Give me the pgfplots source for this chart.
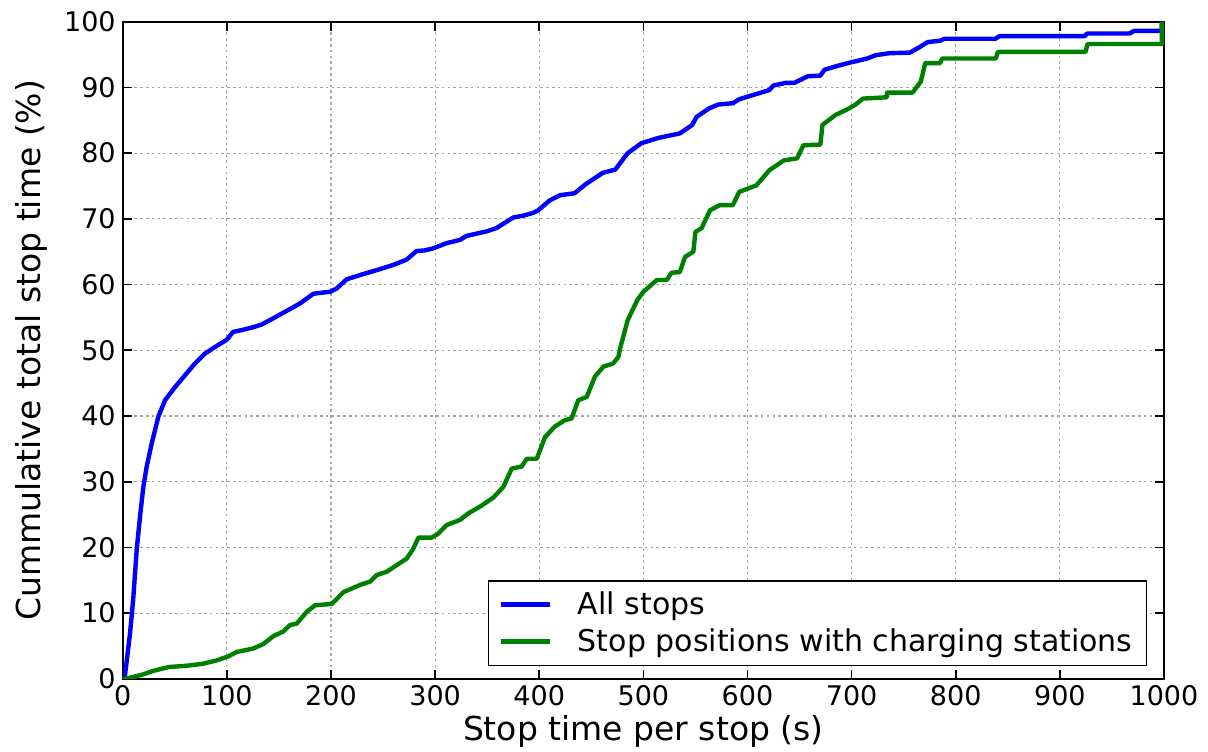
\documentclass[border=0pt]{standalone}
\usepackage{pgfplots}
\pgfplotsset{compat=1.18}
\usepackage{fontspec}
\setmainfont{DejaVu Sans}

\definecolor{mplblue}{RGB}{0,0,255}
\definecolor{mplgreen}{RGB}{0,128,0}

\begin{document}
\begin{tikzpicture}
\begin{axis}[
  width=520.5pt, height=328.5pt, scale only axis,
  xmin=0, xmax=1000, ymin=0, ymax=100,
  xtick={0,100,...,1000}, ytick={0,10,...,100},
  grid=major,
  major grid style={black!35, line width=0.6pt, dash pattern=on 1.3pt off 1.6pt},
  axis line style={line width=1pt},
  tick style={black, line width=0.8pt},
  major tick length=4.5pt,
  tick label style={font=\fontsize{13.5}{16}\selectfont},
  /pgf/number format/assume math mode=true,
  /pgf/number format/set thousands separator={},
  label style={font=\fontsize{16.5}{20}\selectfont},
  xlabel={Stop time per stop (s)},
  ylabel={Cummulative total stop time (\%)},
  xlabel style={at={(axis description cs:0.5,0)}, anchor=base, yshift=-31pt},
  ylabel style={at={(axis description cs:-0.0794,0.5)}, anchor=base},
  legend style={at={(axis description cs:0.984,0.0193)}, anchor=south east,
    draw=black, line width=0.8pt, font=\fontsize{15}{18}\selectfont,
    inner xsep=5pt, inner ysep=3.5pt, row sep=1.5pt, column sep=11pt,
    cells={anchor=west}},
  legend image code/.code={\draw[#1] (0pt,0pt) -- (24.5pt,0pt);},
]
% all stops
\addplot[mplblue, line width=2.2pt, line join=round] coordinates {
(0,0) (2,0.3) (7,6.9) (10,12) (13.4,19.6) (16.6,24.7) (19.8,29.2) (23,32.3)
(27.8,35.8) (34.2,39.9) (40.6,42.4) (50.2,44.4) (59.8,46.2) (69.4,48.0) (79,49.5)
(88.6,50.5) (99.9,51.6) (106,52.8) (115,53.1) (125,53.5) (133,53.9) (141.5,54.6)
(154,55.7) (170,57.1) (183,58.6) (193,58.8) (199,58.9) (205.5,59.4) (215,60.8)
(231,61.6) (244,62.2) (260,63.0) (272.7,63.8) (282,65.1) (290,65.2) (298,65.5)
(311,66.3) (324,66.8) (330,67.4) (349.6,68.1) (359,68.6) (375,70.2) (385,70.5)
(394,70.9) (399,71.3) (410,72.8) (420,73.6) (434,73.9) (444,75.2) (461,77.0)
(473,77.5) (485,80.0) (498,81.5) (514,82.3) (535,83.0) (547,84.3) (551,85.5)
(563,86.8) (572,87.4) (586,87.6) (592,88.2) (621,89.6) (625,90.3) (637,90.7)
(645,90.7) (658,91.7) (670,91.8) (674,92.7) (687,93.3) (699,93.8) (715,94.4)
(723,94.9) (736,95.2) (756,95.3) (766,96.2) (773,96.9) (785,97.1) (789,97.4)
(838,97.4) (842,97.8) (924,97.8) (926,98.2) (967,98.2) (971,98.6) (998,98.6)
(998,100)
};
\addlegendentry{All stops}
% stops with charging stations
\addplot[mplgreen, line width=2.2pt, line join=round] coordinates {
(0,0) (2,0) (18,0.6) (29,1.2) (44,1.8) (61.5,2.0) (77,2.3) (90,2.8) (101,3.4)
(109.5,4.1) (125,4.6) (135,5.3) (144.6,6.5) (154,7.2) (160.7,8.2) (167,8.4)
(176.7,10.2) (184.7,11.2) (200.7,11.4) (212,13.2) (228,14.3) (237.5,14.8)
(244,15.8) (253.5,16.3) (263,17.3) (272.7,18.3) (279,19.8) (284,21.5) (296.7,21.5)
(303,22.1) (311,23.4) (324,24.2) (332,25.2) (343,26.2) (356,27.6) (365.5,29.2)
(373.6,32.0) (383,32.3) (388,33.5) (397.6,33.5) (405.6,36.8) (415,38.4) (425,39.4)
(431,39.6) (437.5,42.4) (445.6,42.9) (453.5,46.0) (461.5,47.5) (471,48.0)
(476,49.0) (478,50.5) (485,54.6) (494,57.6) (500,58.9) (513,60.7) (522.4,60.7)
(527,61.8) (535,61.9) (540,64.2) (548,65.0) (550,68.0) (556,68.6) (564,71.3)
(573.6,72.1) (586,72.1) (592,74.1) (608.6,75.1) (621,77.4) (635,78.9) (647.6,79.2)
(653.7,81.2) (670,81.3) (672,84.3) (684.5,85.8) (695,86.6) (703,87.3) (711,88.3)
(733.8,88.5) (734,89.2) (758.4,89.2) (766.5,90.9) (770.7,93.7) (785,93.7)
(787,94.4) (838.4,94.4) (840.5,95.4) (924.6,95.4) (926.6,96.6) (998,96.6)
(998,100)
};
\addlegendentry{Stop positions with charging stations}
\end{axis}
\pgfresetboundingbox
\path[use as bounding box] ([shift={(-61.35pt,-36.15pt)}]current axis.south west)
  rectangle ([shift={(22pt,10.85pt)}]current axis.north east);
\end{tikzpicture}
\end{document}
